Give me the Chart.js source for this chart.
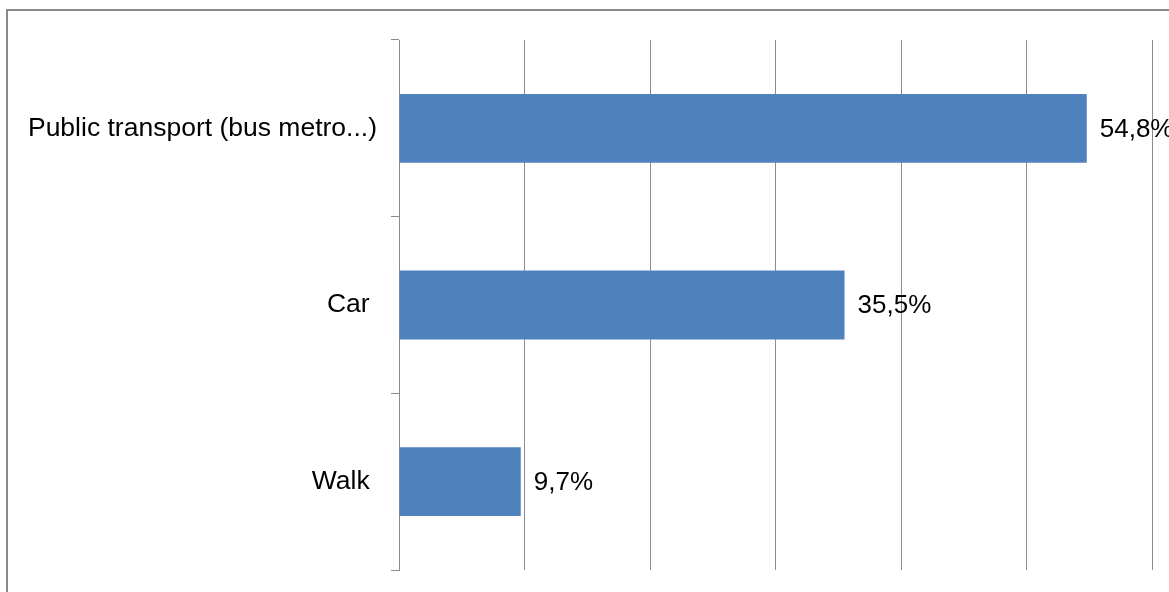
<!DOCTYPE html>
<html>
<head>
<meta charset="utf-8">
<script src="https://cdn.jsdelivr.net/npm/chart.js@4"></script>
<style>
html,body{margin:0;padding:0;width:1169px;height:592px;overflow:hidden;background:#fff;}
#frame{position:absolute;left:6px;top:9px;width:2000px;height:2000px;border:2px solid #8a8a8a;box-sizing:border-box;}
#c{position:absolute;left:0;top:0;}
</style>
</head>
<body>
<div id="frame"></div>
<canvas id="c" width="1169" height="592"></canvas>
<script>
const categories = ["Public transport (bus metro...)", "Car", "Walk"];
const shares = [54.8, 35.5, 9.7];
const axisMin = 0;
const axisMax = 60;
const axisStep = 10;

const FONT = "'Liberation Sans', Arial, sans-serif";

const valueLabels = {
  id: 'valueLabels',
  afterDatasetsDraw(chart) {
    const ctx = chart.ctx;
    const meta = chart.getDatasetMeta(0);
    ctx.save();
    ctx.font = "26px " + FONT;
    ctx.fillStyle = "#000";
    ctx.textAlign = "left";
    ctx.textBaseline = "middle";
    meta.data.forEach((bar, i) => {
      const txt = shares[i].toFixed(1).replace('.', ',') + '%';
      ctx.fillText(txt, bar.x + 13, bar.y + 1);
    });
    ctx.restore();
  }
};

new Chart(document.getElementById('c'), {
  type: 'bar',
  data: {
    labels: categories,
    datasets: [{
      data: shares,
      backgroundColor: '#4f81bd',
      borderWidth: 0,
      barPercentage: 0.39,
      categoryPercentage: 1.0
    }]
  },
  options: {
    indexAxis: 'y',
    responsive: false,
    animation: false,
    devicePixelRatio: 1,
    layout: { padding: { top: 40, bottom: 22, right: 17, left: 0 } },
    plugins: { legend: { display: false }, tooltip: { enabled: false } },
    scales: {
      x: {
        min: axisMin, max: axisMax,
        afterFit(scale) { scale.height = 0; scale.paddingLeft = 0; scale.paddingRight = 0; },
        ticks: { display: false, stepSize: axisStep },
        grid: { color: '#8c8c8c', lineWidth: 1, drawTicks: false },
        border: { display: false }
      },
      y: {
        offset: true,
        afterFit(scale) { scale.width = 399; scale.paddingTop = 0; scale.paddingBottom = 0; },
        ticks: {
          color: '#000', font: { family: FONT, size: 26.5 }, padding: 14, autoSkip: false,
          callback(value, index) { const l = this.getLabelForValue(value); return index === 0 ? l : l + ' '; }
        },
        grid: { drawOnChartArea: false, color: '#8c8c8c', tickLength: 8, offset: true },
        border: { display: true, color: '#8c8c8c', width: 1 }
      }
    }
  },
  plugins: [valueLabels]
});
</script>
</body>
</html>
